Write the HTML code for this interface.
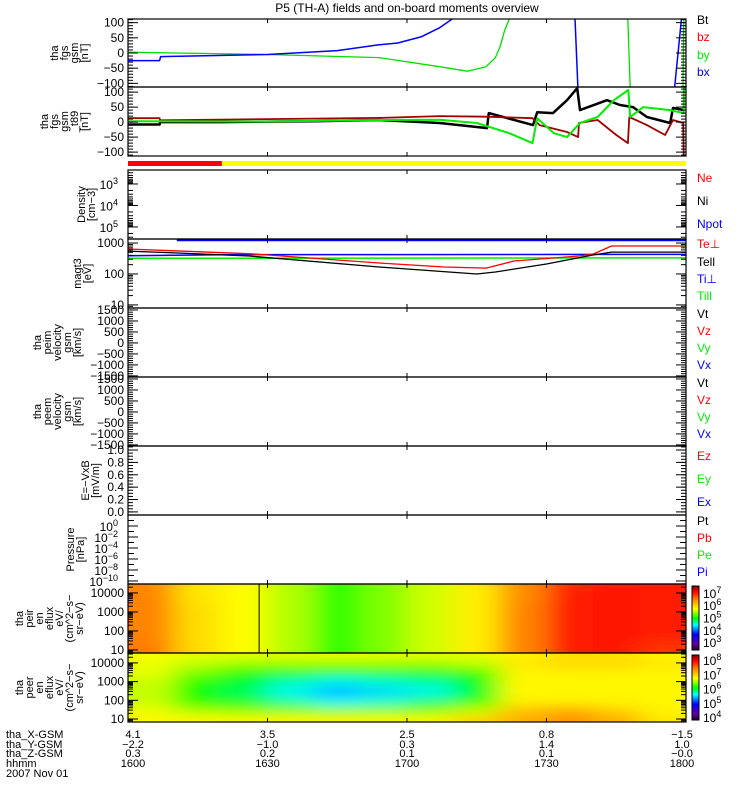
<!DOCTYPE html>
<html><head><meta charset="utf-8"><title>THEMIS overview</title>
<style>
html,body{margin:0;padding:0;background:#fff;}
svg{display:block;font-family:"Liberation Sans",sans-serif;}
</style></head>
<body>
<svg id="chart" width="750" height="800" viewBox="0 0 750 800" xmlns="http://www.w3.org/2000/svg">
<defs>
<filter id="blur" x="-10%" y="-10%" width="120%" height="120%"><feGaussianBlur stdDeviation="14 6"/></filter>
</defs>
<text x="407" y="12" text-anchor="middle" font-size="12">P5 (TH-A) fields and on-board moments overview</text>
</svg>
<script>
// ---------- data ----------
const timeTicks = [0, 30, 60, 90, 120];
const xgsmLabels = ["4.1", "3.5", "2.5", "0.8", "-1.5"];
const ygsmLabels = ["-2.2", "-1.0", "0.3", "1.4", "1.0"];
const zgsmLabels = ["0.3", "0.2", "0.1", "0.1", "-0.0"];
const hhmmLabels = ["1600", "1630", "1700", "1730", "1800"];

const fgsBxT = [0, 6.8, 7, 30, 45, 54, 58, 63, 67, 70, 72, 95.9, 97, 117, 119.6];
const fgsBxV = [-25, -25, -12, -5, 8, 27, 33, 53, 83, 115, 200, 200, -200, -200, 200];
const fgsByT = [0, 10, 30, 54, 67, 73, 77, 79, 80, 81, 82, 84, 107.3, 108.2, 119.3, 119.6];
const fgsByV = [3, 0, -5, -15, -45, -60, -45, -15, 20, 75, 112, 200, 200, -200, -200, 200];

const tggBlackT = [0, 6.8, 6.9, 20, 40, 54, 67, 77.2, 77.6, 87.1, 88, 91.4, 94.4, 96.6, 97.2, 103, 105.8, 108.6, 111.6, 116.6, 117.2, 119.6];
const tggBlackV = [-8, -8, 0, 0, 3, 7, -3, -20, 30, -10, 33, 30, 73, 113, 40, 73, 57, 50, 17, -3, 47, 40];
const tggRedT = [0, 6.8, 6.9, 30, 54, 67, 77, 87, 88.5, 94.4, 96.8, 97, 101, 105, 107.5, 107.8, 111.6, 115.5, 117.2, 119.4, 119.6];
const tggRedV = [13, 13, 6, 10, 14, 20, 18, 13, -10, -33, -50, -3, 7, -43, -70, 17, -10, -43, 7, -3, -200];
const tggGreenT = [0, 30, 54, 67, 75, 82, 87, 88, 91.6, 94.4, 97.2, 101, 104.5, 107.6, 108, 110.8, 116.6, 119.5, 119.6];
const tggGreenV = [3, 2, 7, 8, -3, -37, -70, 13, -37, -50, -3, 17, 73, 107, 17, 50, 40, 30, 200];

const statusT = [0, 20.2, 120];
const statusColors = ["#ff0000", "#ffff00"];

const teperpT = [0, 10, 26.4, 54, 68, 77, 83, 97, 100, 104, 120];
const teperpV = [640, 560, 450, 226, 168, 155, 262, 380, 440, 800, 800];
const teparT = [0, 10, 26, 54, 75, 79, 90, 100, 104, 120];
const teparV = [550, 480, 380, 168, 100, 116, 210, 410, 510, 510];
const tiperpT = [0, 20, 120];
const tiperpV = [390, 420, 430];
const tiparT = [0, 120];
const tiparV = [320, 330];
const npotT = [10.5, 120];
const npotV = [1380, 1380];

const specTimes = [5, 15, 25, 35, 45, 55, 65, 75, 85, 95, 105, 115];
const peirEnergies = [1, 2, 3, 4, 4.5];
const peirRow1 = [6.55, 5.95, 5.75, 5.5, 5.1, 5.35, 5.6, 5.85, 6.5, 7.0, 7.05, 6.9];
const peirRow2 = [6.5, 5.95, 5.75, 5.5, 5.1, 5.35, 5.6, 5.85, 6.5, 7.0, 7.05, 7.0];
const peirRow3 = [6.5, 5.95, 5.75, 5.5, 5.1, 5.35, 5.6, 5.85, 6.5, 7.0, 7.05, 7.0];
const peirRow4 = [6.5, 5.9, 5.75, 5.5, 5.1, 5.35, 5.6, 5.85, 6.45, 7.0, 7.05, 7.0];
const peirRow5 = [6.45, 5.9, 5.75, 5.5, 5.1, 5.35, 5.6, 5.85, 6.45, 6.95, 7.0, 7.0];
const peirMarkerT = [28.2];

const peerEnergies = [1, 1.5, 2, 2.5, 3, 3.5, 4, 4.5];
const peerRow1 = [6.8, 6.8, 6.8, 6.8, 6.8, 6.8, 6.8, 7.0, 7.2, 7.35, 7.2, 6.9];
const peerRow2 = [6.7, 6.5, 6.4, 6.4, 6.4, 6.4, 6.4, 6.6, 7.1, 7.2, 7.0, 6.8];
const peerRow3 = [6.6, 6.1, 6.0, 5.8, 5.6, 5.7, 5.9, 6.1, 6.8, 6.8, 6.8, 6.8];
const peerRow4 = [6.6, 6.1, 5.9, 5.6, 5.4, 5.5, 5.6, 6.0, 6.8, 6.8, 6.8, 6.8];
const peerRow5 = [6.6, 6.15, 6.0, 5.75, 5.6, 5.7, 5.8, 6.05, 6.8, 6.8, 6.8, 6.8];
const peerRow6 = [6.7, 6.4, 6.1, 6.1, 6.1, 6.1, 6.1, 6.2, 6.8, 6.8, 6.8, 6.8];
const peerRow7 = [6.7, 6.6, 6.5, 6.5, 6.5, 6.5, 6.5, 6.6, 6.9, 7.0, 7.0, 6.9];
const peerRow8 = [6.75, 6.7, 6.7, 6.7, 6.7, 6.7, 6.7, 6.7, 6.8, 6.9, 6.9, 6.8];

// ---------- layout ----------
const NS = "http://www.w3.org/2000/svg";
const svg = document.getElementById("chart");
const X0 = 128, X1 = 686;
function xs(t) { return X0 + t / 120 * (X1 - X0); }
function mk(tag, attrs, parent) {
  const e = document.createElementNS(NS, tag);
  for (const k in attrs) e.setAttribute(k, attrs[k]);
  (parent || svg).appendChild(e);
  return e;
}
const panels = {
  fgs: {top: 19, bot: 87, min: -112, max: 112},
  tgg: {top: 87, bot: 156, min: -113, max: 117},
  dens: {top: 170, bot: 239, min: 5.56, max: 2.35},
  magt: {top: 239, bot: 308, min: 0.90, max: 3.13},
  vpeim: {top: 308, bot: 377, min: -1550, max: 1590},
  vpeem: {top: 377, bot: 446, min: -1550, max: 1590},
  efld: {top: 446, bot: 515, min: -0.05, max: 1.065},
  pres: {top: 515, bot: 584, min: -10.55, max: 2.0},
  peir: {top: 584, bot: 653, min: 0.84, max: 4.47},
  peer: {top: 653, bot: 722, min: 0.84, max: 4.53}
};
function ly(p, v) { return p.bot - (v - p.min) / (p.max - p.min) * (p.bot - p.top); }
function lgy(p, v) { return ly(p, Math.log10(v)); }

const cmStops = [[0, [30, 0, 30]], [0.1, [100, 0, 160]], [0.25, [0, 0, 255]], [0.4, [0, 255, 255]], [0.5, [0, 255, 0]], [0.65, [255, 255, 0]], [0.8, [255, 128, 0]], [0.92, [255, 0, 0]], [1, [140, 0, 0]]];
function cmap(f) {
  f = Math.max(0, Math.min(1, f));
  for (let i = 1; i < cmStops.length; i++) {
    if (f <= cmStops[i][0]) {
      const a = cmStops[i - 1], b = cmStops[i], u = (f - a[0]) / (b[0] - a[0]);
      const c = a[1].map((v, j) => Math.round(v + (b[1][j] - v) * u));
      return "rgb(" + c.join(",") + ")";
    }
  }
  return "rgb(140,0,0)";
}

const defs = svg.querySelector("defs");
for (const k in panels) {
  const p = panels[k];
  const cp = mk("clipPath", {id: "clip-" + k}, defs);
  mk("rect", {x: X0, y: p.top, width: X1 - X0, height: p.bot - p.top}, cp);
}

// ---------- spectrograms ----------
function spectro(key, energies, rows, vmin, vmax, name) {
  const p = panels[key];
  const g = mk("g", {"clip-path": "url(#clip-" + key + ")"});
  
  
  const base = mk("g", {}, g);
  const inner = mk("g", {filter: "url(#blur)"}, g);
  [base, inner].forEach(layer => {
    rows.forEach((row, ri) => {
      const e = energies[ri];
      const eLo = ri === 0 ? e - 1 : (energies[ri - 1] + e) / 2;
      const eHi = ri === energies.length - 1 ? e + 1 : (energies[ri + 1] + e) / 2;
      row.forEach((v, ci) => {
        const t = specTimes[ci];
        const tLo = ci === 0 ? t - 30 : (specTimes[ci - 1] + t) / 2;
        const tHi = ci === specTimes.length - 1 ? t + 30 : (specTimes[ci + 1] + t) / 2;
        const y1 = ly(p, eHi), y2 = ly(p, eLo);
        const cell = mk("rect", {x: xs(tLo), y: y1, width: xs(tHi) - xs(tLo) + 0.5, height: y2 - y1 + 0.5, fill: cmap((v - vmin) / (vmax - vmin))}, layer);
        
        
      });
    });
  });
}
spectro("peir", peirEnergies, [peirRow1, peirRow2, peirRow3, peirRow4, peirRow5], 2.35, 7.57, "peir-spectrogram");
spectro("peer", peerEnergies, [peerRow1, peerRow2, peerRow3, peerRow4, peerRow5, peerRow6, peerRow7, peerRow8], 3.8, 8.35, "peer-spectrogram");
peirMarkerT.forEach(t => {
  const l = mk("line", {x1: xs(t), x2: xs(t), y1: panels.peir.top, y2: panels.peir.bot, stroke: "#000", "stroke-width": 1});
  
  
});

// ---------- status bar ----------
for (let i = 0; i < statusColors.length; i++) {
  const r = mk("rect", {x: xs(statusT[i]), y: 161, width: xs(statusT[i + 1]) - xs(statusT[i]), height: 5, fill: statusColors[i]});
  
  
}

// ---------- line series ----------
function series(key, ts, vs, color, width, name, logScale) {
  const p = panels[key];
  const pts = ts.map((t, i) => xs(t).toFixed(1) + "," + (logScale ? lgy(p, vs[i]) : ly(p, vs[i])).toFixed(1)).join(" ");
  const pl = mk("polyline", {points: pts, fill: "none", stroke: color, "stroke-width": width, "clip-path": "url(#clip-" + key + ")", "stroke-linejoin": "round"});
  
  
}
series("fgs", fgsByT, fgsByV, "#00e000", 1.3, "fgs-by-line");
series("fgs", fgsBxT, fgsBxV, "#0000ff", 1.5, "fgs-bx-line");
series("tgg", tggBlackT, tggBlackV, "#000000", 2.5, "tgg-bt-line");
series("tgg", tggRedT, tggRedV, "#a00000", 1.8, "tgg-bz-line");
series("tgg", tggGreenT, tggGreenV, "#00ee00", 2, "tgg-by-line");
series("magt", tiparT, tiparV, "#00ee00", 1.5, "ti-par-line", true);
series("magt", tiperpT, tiperpV, "#0000ff", 1.5, "ti-perp-line", true);
series("magt", teperpT, teperpV, "#ff0000", 1.3, "te-perp-line", true);
series("magt", teparT, teparV, "#000000", 1.3, "te-par-line", true);
{
  const p = panels.magt;
  const pl = mk("polyline", {points: npotT.map((t, i) => xs(t) + "," + Math.max(p.top + 1, lgy(p, npotV[i]))).join(" "), fill: "none", stroke: "#0000ff", "stroke-width": 2.5});
  
  
}

// ---------- axes ----------
function tick(x1, y1, x2, y2, name) {
  const l = mk("line", {x1, y1, x2, y2, stroke: "#000", "stroke-width": 1});
  
  
}
function label(x, y, txt, name, anchor, sup) {
  const t = mk("text", {x, y, "font-size": 12, "text-anchor": anchor || "end"});
  
  
  t.textContent = txt;
  if (sup !== undefined) {
    const s = mk("tspan", {dy: -5, "font-size": 9}, t);
    s.textContent = sup;
  }
  return t;
}
function frame(key) {
  const p = panels[key];
  const r = mk("rect", {x: X0, y: p.top, width: X1 - X0, height: p.bot - p.top, fill: "none", stroke: "#000", "stroke-width": 1.2});
  
  
  timeTicks.forEach(t => {
    tick(xs(t), p.top, xs(t), p.top + 4, key + '-time-tick');
    tick(xs(t), p.bot, xs(t), p.bot - 4, key + '-time-tick');
  });
}
function yTickBoth(p, y, len, name) {
  if (y < p.top - 0.5 || y > p.bot + 0.5) return;
  tick(X0, y, X0 + len, y, name);
  tick(X1, y, X1 - len, y, name);
}
function linAxis(key, labels, minorStep, fmt) {
  const p = panels[key];
  for (let v = Math.ceil(Math.min(p.min, p.max) / minorStep) * minorStep; v <= Math.max(p.min, p.max) + 1e-9; v += minorStep) yTickBoth(p, ly(p, v), 5, key + '-minor-tick');
  labels.forEach(v => {
    const y = ly(p, v);
    yTickBoth(p, y, 10, key + '-major-tick');
    label(124, y + 4, fmt ? fmt(v) : String(v).replace("-", "\u2212"), key + '-tick-label');
  });
}
function logAxis(key, exps, labelled, style) {
  const p = panels[key];
  exps.forEach(e => {
    yTickBoth(p, ly(p, e), 10, key + '-major-tick');
    for (let k = 2; k < 10; k++) yTickBoth(p, ly(p, e + Math.log10(k)), 5, key + '-minor-tick');
  });
  labelled.forEach(e => {
    const y = ly(p, e);
    if (style === "num") label(124, y + 4, String(Math.pow(10, e)), key + '-tick-label');
    else label(124, y + 5, "10", key + '-tick-label', "end", String(e).replace("-", "\u2212")).setAttribute("dx", "-6");
  });
}
Object.keys(panels).forEach(frame);
linAxis("fgs", [100, 50, 0, -50, -100], 10);
linAxis("tgg", [100, 50, 0, -50, -100], 10);
logAxis("dens", [2, 3, 4, 5], [3, 4, 5], "exp");
logAxis("magt", [0, 1, 2, 3], [3, 2, 1], "num");
linAxis("vpeim", [1500, 1000, 500, 0, -500, -1000, -1500], 100);
linAxis("vpeem", [1500, 1000, 500, 0, -500, -1000, -1500], 100);
linAxis("efld", [1.0, 0.8, 0.6, 0.4, 0.2, 0.0], 0.05, v => v.toFixed(1));
{
  const p = panels.pres;
  for (let e = -10; e <= 1; e++) yTickBoth(p, ly(p, e), e % 2 === 0 ? 10 : 6, 'pres-tick');
  [0, -2, -4, -6, -8, -10].forEach(e => label(118, ly(p, e) + 5, "10", 'pres-tick-label', "end", String(e).replace("-", "\u2212")));
}
logAxis("peir", [0, 1, 2, 3, 4], [4, 3, 2, 1], "num");
logAxis("peer", [0, 1, 2, 3, 4], [4, 3, 2, 1], "num");

// ---------- colorbars ----------
function colorbar(top, bot, vmin, vmax, exps, name) {
  const g = mk("g", {});
  
  
  for (let y = top; y < bot; y++) {
    const f = 1 - (y - top) / (bot - top);
    mk("rect", {x: 692, y, width: 7, height: 1.2, fill: cmap(f)}, g);
  }
  mk("rect", {x: 692, y: top, width: 7, height: bot - top, fill: "none", stroke: "#000", "stroke-width": 1}, g);
  exps.forEach(e => {
    const y = bot - (e - vmin) / (vmax - vmin) * (bot - top);
    label(703, y + 5, "10", name + '-label', "start", String(e));
  });
}
colorbar(586, 650, 2.35, 7.57, [7, 6, 5, 4, 3], "peir-colorbar");
colorbar(655, 720, 3.8, 8.35, [8, 7, 6, 5, 4], "peer-colorbar");

// ---------- right legends ----------
const legends = [
  [["Bt", "#000"], ["bz", "#ff0000"], ["by", "#00ee00"], ["bx", "#0000ff"]], [24, 41, 59, 76],
  [["Ne", "#ff0000"], ["Ni", "#000"], ["Npot", "#0000ff"]], [182, 205, 228],
  [["Te\u22A5", "#ff0000"], ["Tell", "#000"], ["Ti\u22A5", "#0000ff"], ["Till", "#00ee00"]], [248, 266, 283, 300],
  [["Vt", "#000"], ["Vz", "#ff0000"], ["Vy", "#00ee00"], ["Vx", "#0000ff"]], [318, 335, 352, 369],
  [["Vt", "#000"], ["Vz", "#ff0000"], ["Vy", "#00ee00"], ["Vx", "#0000ff"]], [387, 404, 421, 438],
  [["Ez", "#ff0000"], ["Ey", "#00ee00"], ["Ex", "#0000ff"]], [460, 483, 506],
  [["Pt", "#000"], ["Pb", "#ff0000"], ["Pe", "#00ee00"], ["Pi", "#0000ff"]], [525, 542, 559, 576]
];
for (let i = 0; i < legends.length; i += 2) {
  legends[i].forEach((it, j) => {
    const t = mk("text", {x: 697, y: legends[i + 1][j], "font-size": 12, fill: it[1]});
    
    
    t.textContent = it[0];
  });
}

// ---------- y titles ----------
const yTitles = [
  ["fgs", ["tha", "fgs", "gsm", "[nT]"], 88],
  ["tgg", ["tha", "fgs", "gsm", "_t89", "[nT]"], 88],
  ["dens", ["Density", "[cm\u22123]"], 95],
  ["magt", ["magt3", "[eV]"], 91],
  ["vpeim", ["tha", "peim", "velocity", "gsm", "[km/s]"], 81],
  ["vpeem", ["tha", "peem", "velocity", "gsm", "[km/s]"], 81],
  ["efld", ["E=\u2212VxB", "[mV/m]"], 99],
  ["pres", ["Pressure", "[nPa]"], 84],
  ["peir", ["tha", "peir", "en", "eflux", "eV/", "(cm^2\u2212s\u2212", "sr\u2212eV)"], 83],
  ["peer", ["tha", "peer", "en", "eflux", "eV/", "(cm^2\u2212s\u2212", "sr\u2212eV)"], 83]
];
yTitles.forEach(([key, lines, xl]) => {
  const p = panels[key];
  const cy = (p.top + p.bot) / 2;
  const n = lines.length;
  lines.forEach((ln, i) => {
    const x = xl - (n - 1 - i) * 10;
    const t = mk("text", {x: 0, y: 0, "font-size": 11, "text-anchor": "middle", transform: "translate(" + x + "," + cy + ") rotate(-90)"});
    
    
    t.textContent = ln;
  });
});

// ---------- ephemeris ----------
const ephRows = [["tha_X-GSM", xgsmLabels, 738], ["tha_Y-GSM", ygsmLabels, 748], ["tha_Z-GSM", zgsmLabels, 757], ["hhmm", hhmmLabels, 767]];
ephRows.forEach(([nm, vals, y]) => {
  const t = mk("text", {x: 6, y, "font-size": 11});
  
  
  t.textContent = nm;
  vals.forEach((v, i) => {
    let x = xs(timeTicks[i]);
    if (i === 0) x += 5;
    if (i === vals.length - 1) x -= 4;
    const s = mk("text", {x, y, "font-size": 11, "text-anchor": "middle"});
    
    
    s.textContent = v.replace("-", "\u2212");
  });
});
{
  const t = mk("text", {x: 6, y: 777, "font-size": 11});
  
  
  t.textContent = "2007 Nov 01";
}
</script>
</body></html>
